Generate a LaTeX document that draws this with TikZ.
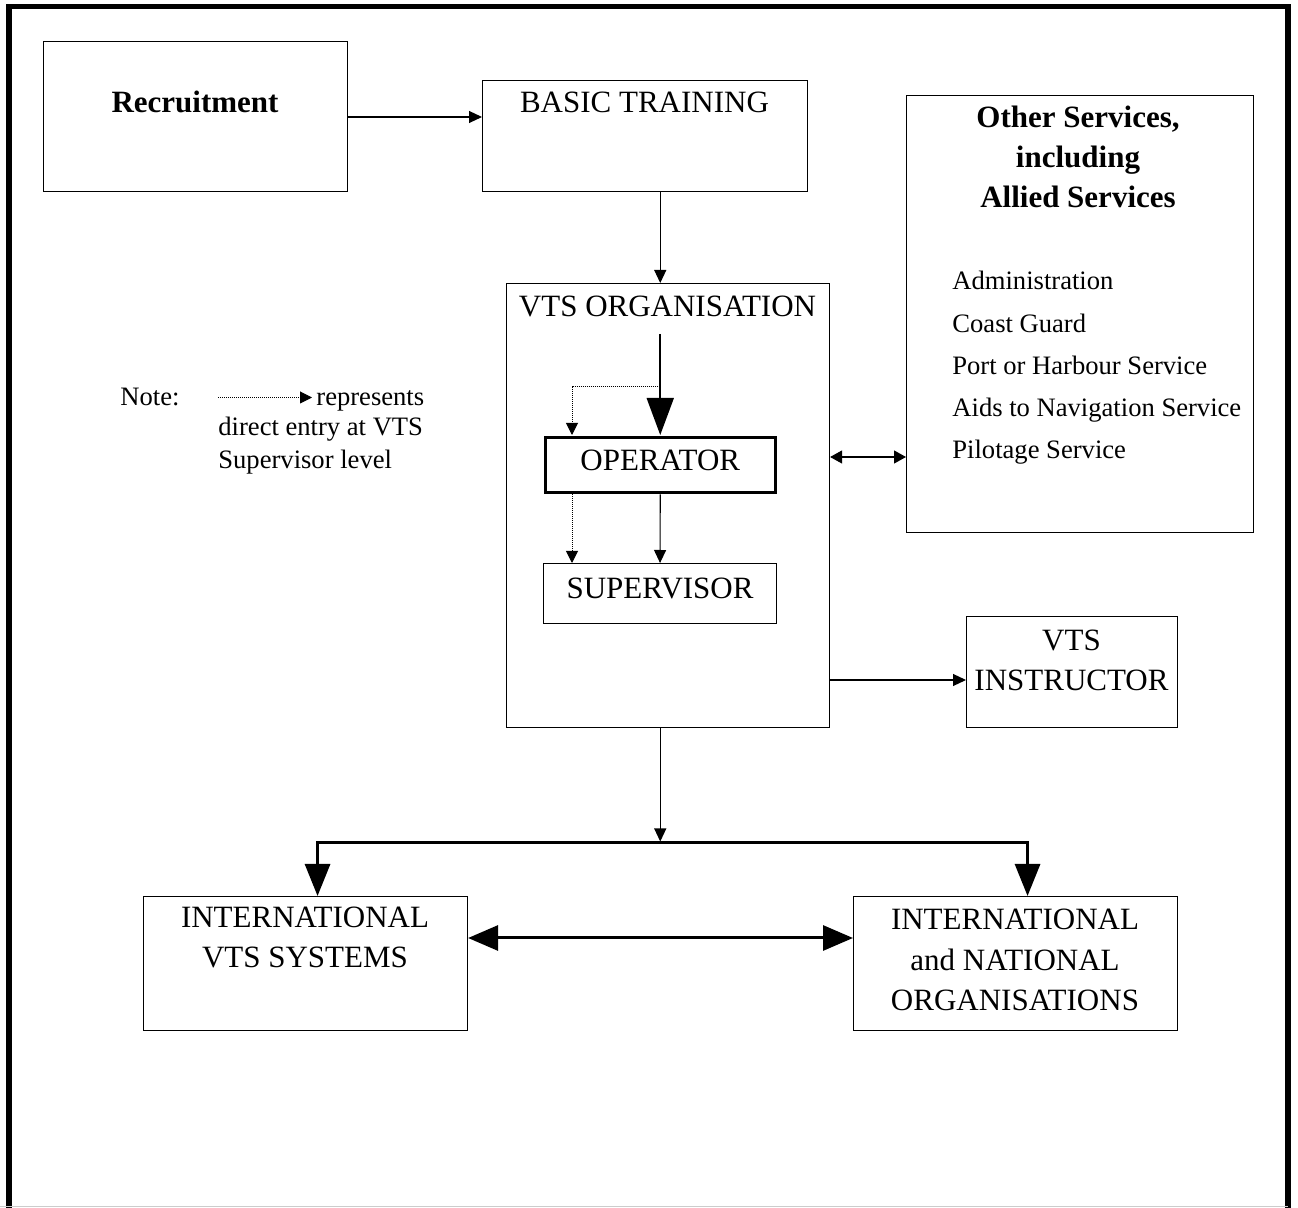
\documentclass[tikz,border=0pt]{standalone}
\usepackage{fontspec}
\setmainfont{Liberation Serif}
\usetikzlibrary{arrows.meta,calc}
\begin{document}
\begin{tikzpicture}[x=0.5pt,y=-0.5pt,
  box/.style={draw, line width=0.55pt, inner sep=0pt, anchor=north west},
  bigtext/.style={font=\fontsize{15.5}{20.25}\selectfont, inner sep=0pt, anchor=base, align=center},
  boldtext/.style={font=\fontsize{15.5}{20}\selectfont\bfseries, inner sep=0pt, anchor=base, align=center},
  smalltext/.style={font=\fontsize{13.3}{16}\selectfont, inner sep=0pt, anchor=base west},
  finedots/.style={dash pattern=on 0.5pt off 0.5pt},
  thinarrow/.style={line width=0.55pt, -{Triangle[length=6.5pt,width=6pt]}},
  dotarrow/.style={line width=0.5pt, finedots, -{Triangle[length=6pt,width=6pt,sep=0pt]}},
  dblthin/.style={line width=0.55pt, {Triangle[length=6pt,width=6.5pt]}-{Triangle[length=6pt,width=6.5pt]}},
  heavy/.style={line width=1.5pt},
  uptext/.style={text height=10.3pt, text depth=5pt},
]
\useasboundingbox (0,0) rectangle (1298,1208);
% outer frame (open at bottom)
\draw[line width=2.75pt] (9,1208) -- (9,6.5) -- (1288,6.5) -- (1288,1208);
\draw[gray!40, line width=0.5pt] (0,1206.5) -- (1288,1206.5);

% boxes
\node[box, minimum width=152pt, minimum height=75pt] (recruit) at (43,41) {};
\node[box, minimum width=162.5pt, minimum height=55.5pt] (basic) at (482,80) {};
\node[box, minimum width=173.5pt, minimum height=218.5pt] (other) at (906,95) {};
\node[box, minimum width=161.5pt, minimum height=222pt] (vts) at (506,283) {};
\node[box, uptext, line width=1.5pt, minimum width=115pt, minimum height=27.5pt,
      font=\fontsize{15.5}{19}\selectfont] (op) at (543.75,435.75) {OPERATOR};
\node[box, uptext, minimum width=116.5pt, minimum height=30pt,
      font=\fontsize{15.5}{19}\selectfont] (sup) at (543,563) {SUPERVISOR};
\node[box, minimum width=105.5pt, minimum height=55.5pt] (instr) at (966,616) {};
\node[box, minimum width=162pt, minimum height=67pt] (ivs) at (143,896) {};
\node[box, minimum width=162pt, minimum height=67pt] (ino) at (853,896) {};

% texts (anchor base = baseline of the last line)
\node[boldtext] (trecruit) at (195,113) {Recruitment};
\node[bigtext] (tbasic) at (644.5,113) {BASIC TRAINING};
\node[boldtext] (tother) at (1078,208) {Other Services,\\including\\Allied Services};
\node[smalltext] (l1) at (952,290) {Administration};
\node[smalltext] (l2) at (952,333) {Coast Guard};
\node[smalltext] (l3) at (952,375) {Port or Harbour Service};
\node[smalltext] (l4) at (952,417) {Aids to Navigation Service};
\node[smalltext] (l5) at (952,459) {Pilotage Service};
\node[bigtext] (tvts) at (667.5,317) {VTS ORGANISATION};
\node[bigtext] (tinstr) at (1071.5,691) {VTS\\INSTRUCTOR};
\node[bigtext] (tivs) at (305,968) {INTERNATIONAL\\VTS SYSTEMS};
\node[bigtext] (tino) at (1015,1011) {INTERNATIONAL\\and NATIONAL\\ORGANISATIONS};

% note
\node[smalltext] (note) at (120,406) {Note:};
\node[smalltext] (rep) at (316,406) {represents};
\node[smalltext] (n2) at (218,436) {direct entry at VTS};
\node[smalltext] (n3) at (218,469) {Supervisor level};
\coordinate (na) at (218,397.5);
\draw[dotarrow, shorten >=2pt] (na) -- (rep.west |- na);

% connectors
\draw[thinarrow] (recruit.east |- 0,117) -- (basic.west |- 0,117);
\draw[thinarrow] (basic.south -| op.north) -- (vts.north -| op.north);
\coordinate (vstart) at (op.north |- 0,334);
\coordinate (dj) at (op.north |- 0,387);
\draw[line width=0.9pt, -{Triangle[length=18.5pt,width=13.5pt]}] (vstart) -- ($(op.north)+(0,-0.75)$);
\draw[finedots, line width=0.5pt] (dj) -- (572,387);
\draw[dotarrow] (572,387) -- ($(op.north west)+(28.25,-0.75)$);
\draw[dotarrow] ($(op.south west)+(28.25,0.75)$) -- (sup.north west -| 572,0);
\draw[thinarrow] ($(op.south)+(0,0.75)$) -- (sup.north);
\draw[dblthin] (vts.east |- 0,457) -- (other.west |- 0,457);
\draw[thinarrow] (vts.east |- 0,680) -- (instr.west |- 0,680);

\coordinate (bar) at (op.north |- 0,843);
\draw[thinarrow, shorten >=0.75pt] (vts.south -| op.north) -- (bar);
\draw[heavy, {Triangle[length=16pt,width=12.5pt]}-{Triangle[length=16pt,width=12.5pt]}]
  ($(ivs.north)+(12,0)$) |- (bar) -| ($(ino.north)+(12,0)$);
\draw[heavy, {Triangle[length=15pt,width=12.5pt]}-{Triangle[length=15pt,width=12.5pt]}]
  (ivs.east |- 0,938) -- (ino.west |- 0,938);
\end{tikzpicture}
\end{document}
